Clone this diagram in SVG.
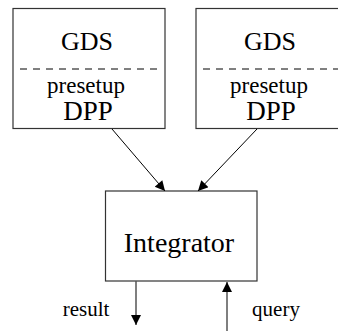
<svg xmlns="http://www.w3.org/2000/svg" width="338" height="331" viewBox="0 0 338 331">
<defs>
<style>
.box{fill:#fff;stroke:#333;stroke-width:1.2}
.dash{stroke:#000;stroke-width:1;stroke-dasharray:7 6}
.t{font-family:'Liberation Serif','Times New Roman','DejaVu Serif',serif;fill:#000;text-anchor:middle}
.ln{stroke:#000;stroke-width:1;fill:none}
.lg{stroke:#555;stroke-width:1.5;fill:none}
</style>
<marker id="ah" viewBox="0 0 10 10" refX="10" refY="5" markerWidth="10" markerHeight="13" markerUnits="userSpaceOnUse" orient="auto">
<path d="M0,0 L10,5 L0,10 Z" fill="#000"/>
</marker>
<marker id="ah2" viewBox="0 0 10 10" refX="10" refY="5" markerWidth="13" markerHeight="10" markerUnits="userSpaceOnUse" orient="auto">
<path d="M0,0 L10,5 L0,10 Z" fill="#000"/>
</marker>
</defs>
<g id="gds1">
<rect class="box" x="13" y="8.5" width="152" height="120"/>
<line class="dash" x1="20" y1="69" x2="160" y2="69"/>
<text class="t" x="87" y="50" font-size="26">GDS</text>
<text class="t" x="86" y="93" font-size="23">presetup</text>
<text class="t" x="88" y="120" font-size="27">DPP</text>
</g>
<g id="gds2">
<rect class="box" x="196" y="8.5" width="152" height="120"/>
<line class="dash" x1="203" y1="69" x2="343" y2="69"/>
<text class="t" x="270" y="50" font-size="26">GDS</text>
<text class="t" x="269" y="93" font-size="23">presetup</text>
<text class="t" x="271" y="120" font-size="27">DPP</text>
</g>
<g id="integrator">
<rect class="box" x="105.5" y="191" width="151.5" height="90"/>
<text class="t" x="179" y="252" font-size="28">Integrator</text>
</g>
<g id="connectors">
<line class="ln" x1="112" y1="129" x2="165" y2="191" marker-end="url(#ah2)"/>
<line class="ln" x1="257" y1="129" x2="198" y2="191" marker-end="url(#ah2)"/>
<line class="lg" x1="136" y1="281" x2="136" y2="325" marker-end="url(#ah)"/>
<line class="lg" x1="227" y1="331" x2="227" y2="282" marker-end="url(#ah)"/>
</g>
<g id="labels">
<text class="t" x="86" y="316" font-size="21">result</text>
<text class="t" x="276" y="316" font-size="21">query</text>
</g>
</svg>
